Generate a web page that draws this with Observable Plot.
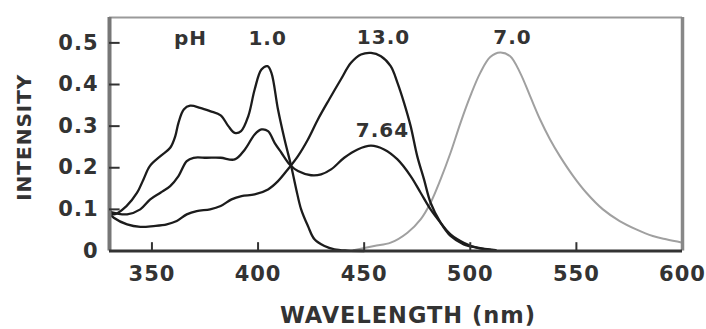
<!DOCTYPE html>
<html><head><meta charset="utf-8">
<script src="https://cdn.jsdelivr.net/npm/d3@7"></script>
<script src="https://cdn.jsdelivr.net/npm/@observablehq/plot@0.6"></script>
<style>html,body{margin:0;padding:0;background:#fff}</style>
</head><body><div id="chart"></div>
<script>
const xTicks = [350, 400, 450, 500, 550, 600];
const yTicks = [0, 0.1, 0.2, 0.3, 0.4, 0.5];
const yTickLabels = ["0", "0.1", "0.2", "0.3", "0.4", "0.5"];
const xDomain = [330, 600];
const yDomain = [0, 0.561];
const xTitle = "WAVELENGTH (nm)";
const yTitle = "INTENSITY";

// pH 1.0
const wl1 = [330, 332, 338, 343, 346, 349, 354, 358.6, 361, 362.5, 365, 368, 372.7, 377.4, 382.4, 386, 389, 392, 395.4, 398.4, 401.6, 404.5, 406.3, 409.4, 412.5, 415.6, 418, 420.3, 423.5, 426.6, 431.3, 436, 442, 450];
const int1 = [0.1, 0.088, 0.108, 0.14, 0.172, 0.204, 0.228, 0.248, 0.276, 0.308, 0.34, 0.349, 0.344, 0.336, 0.326, 0.30, 0.284, 0.288, 0.324, 0.388, 0.436, 0.444, 0.428, 0.34, 0.268, 0.204, 0.148, 0.10, 0.06, 0.028, 0.012, 0.004, 0.001, 0];
// pH 7.64
const wl764 = [330, 338.3, 344.5, 349.2, 354, 358.6, 362.5, 366.4, 369.6, 375.8, 382.4, 389, 393.8, 398.4, 401.6, 404.7, 407.8, 411, 414.9, 418.8, 425, 429.7, 434.4, 440.6, 446.9, 453.2, 459.4, 465.7, 471.9, 476.6, 481.3, 486, 490.7, 496.9, 503, 510];
const int764 = [0.094, 0.088, 0.10, 0.124, 0.14, 0.156, 0.18, 0.216, 0.224, 0.224, 0.224, 0.22, 0.244, 0.28, 0.292, 0.288, 0.26, 0.236, 0.208, 0.192, 0.182, 0.184, 0.196, 0.224, 0.244, 0.253, 0.244, 0.22, 0.18, 0.14, 0.10, 0.068, 0.04, 0.02, 0.008, 0.002];
// pH 13.0
const wl13 = [330, 332, 338.3, 344.5, 350.8, 357, 361.7, 366.4, 371.1, 377.4, 382.4, 387.5, 392.2, 398.4, 404.7, 409.4, 414, 418.8, 423.5, 428.2, 433.5, 439, 443.8, 448.5, 453.2, 457.9, 462.5, 465.7, 468.8, 471.9, 475, 478.2, 481.3, 486, 490.7, 496.9, 503.2, 512];
const int13 = [0.09, 0.08, 0.064, 0.058, 0.06, 0.064, 0.072, 0.088, 0.096, 0.10, 0.108, 0.124, 0.132, 0.136, 0.148, 0.168, 0.196, 0.228, 0.268, 0.316, 0.364, 0.412, 0.452, 0.472, 0.476, 0.468, 0.444, 0.404, 0.356, 0.30, 0.228, 0.172, 0.116, 0.068, 0.036, 0.016, 0.008, 0.002];
// pH 7.0
const wl7 = [445, 454.7, 462.5, 470.4, 476.6, 481.3, 486, 490.7, 495.4, 500, 504.7, 509.4, 514.1, 518.8, 523.5, 528.2, 532.9, 537.6, 542.2, 548.5, 554.7, 562.5, 570.4, 578.2, 586, 592.3, 600];
const int7 = [0.002, 0.012, 0.02, 0.044, 0.076, 0.116, 0.172, 0.236, 0.308, 0.372, 0.428, 0.466, 0.477, 0.468, 0.428, 0.372, 0.316, 0.268, 0.228, 0.18, 0.14, 0.10, 0.072, 0.052, 0.036, 0.028, 0.02];

const labelText = ["pH", "1.0", "13.0", "7.0", "7.64"];
const labelX = [368.2, 404.5, 459.1, 519.9, 458.6];
const labelY = [0.511, 0.511, 0.513, 0.513, 0.29];

const toRows = (wl, v) => wl.map((w, i) => ({w, v: v[i]}));
const dark = "#1c1c1c";
const ink = "#333";
const yFmt = d => yTickLabels[yTicks.indexOf(d)];

const lineOpts = (color, sw) => ({x: "w", y: "v", stroke: color, strokeWidth: sw, curve: "catmull-rom"});

const chart = Plot.plot({
  width: 706,
  height: 329,
  marginLeft: 109,
  marginRight: 24,
  marginTop: 17,
  marginBottom: 78.5,
  style: {fontFamily: "DejaVu Sans", fontSize: "21px", fontWeight: "bold", letterSpacing: "1px", background: "#fff"},
  x: {domain: xDomain},
  y: {domain: yDomain},
  marks: [
    Plot.line(toRows(wl7, int7), lineOpts("#a0a0a0", 2)),
    Plot.line(toRows(wl1, int1), lineOpts(dark, 2.3)),
    Plot.line(toRows(wl764, int764), lineOpts(dark, 2.3)),
    Plot.line(toRows(wl13, int13), lineOpts(dark, 2.3)),
    Plot.ruleY([yDomain[1]], {stroke: "#9a9a9a", strokeWidth: 2}),
    Plot.ruleX([xDomain[1]], {stroke: "#888", strokeWidth: 3.5}),
    Plot.ruleX([xDomain[0]], {stroke: "#777", strokeWidth: 4}),
    Plot.ruleY([0], {stroke: "#333", strokeWidth: 3}),
    // inward tick marks
    Plot.ruleY(yTicks.slice(1), {y: d => d, x1: xDomain[0], x2: xDomain[0] + 5, stroke: ink, strokeWidth: 2}),
    Plot.ruleX(xTicks.slice(0, -1), {x: d => d, y1: 0, y2: 0.02, stroke: ink, strokeWidth: 2}),
    // tick labels
    Plot.axisY(yTicks, {tickSize: 0, tickPadding: 11, color: ink, fontSize: 21, fontWeight: "bold", tickFormat: yFmt, label: null}),
    Plot.axisX(xTicks, {tickSize: 0, tickPadding: 15, color: ink, fontSize: 21, fontWeight: "bold", label: null}),
    Plot.text(labelText, {x: (d, i) => labelX[i], y: (d, i) => labelY[i], text: d => d, fontSize: 20, fontWeight: "bold", fill: ink}),
    Plot.text([xTitle], {frameAnchor: "bottom", textAnchor: "middle", lineAnchor: "middle", dx: 12, dy: 65, fontSize: 22.5, fontWeight: "bold", fill: ink}),
    Plot.text([yTitle], {frameAnchor: "left", textAnchor: "middle", lineAnchor: "middle", rotate: -90, dx: -85, dy: 3, fontSize: 20, fontWeight: "bold", fill: ink})
  ]
});
document.getElementById("chart").appendChild(chart);
</script>
</body></html>
